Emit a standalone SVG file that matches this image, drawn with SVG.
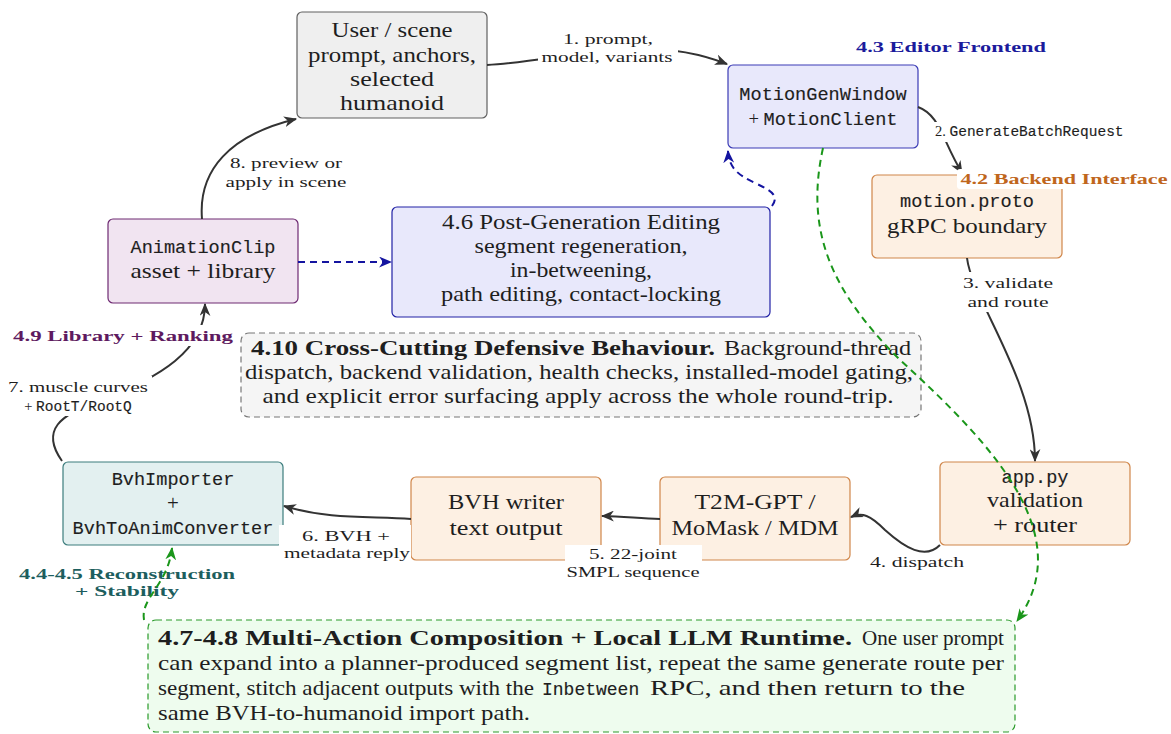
<svg xmlns="http://www.w3.org/2000/svg" width="1171" height="734" viewBox="0 0 1171 734">
<defs>
<style>
.t{font-family:"Liberation Serif","Times New Roman",serif;fill:#1e1e1e}
.m{font-family:"Liberation Mono","Courier New",monospace;fill:#1e1e1e;stroke:#1e1e1e;stroke-width:0.15}
.f21{font-size:21px}
.f19{font-size:18.6px}
.f14{font-size:14px}
.sec{font-family:"Liberation Serif","Times New Roman",serif;font-weight:bold;font-size:15.5px}
.gray{fill:#efefef;stroke:#606060;stroke-width:1.2}
.blue{fill:#e8e8fb;stroke:#3a3ab5;stroke-width:1.2}
.orange{fill:#fdf0e3;stroke:#d0864a;stroke-width:1.2}
.purple{fill:#f1e4f1;stroke:#6e2a72;stroke-width:1.2}
.teal{fill:#e3f0f0;stroke:#3d7d7d;stroke-width:1.2}
.dash{fill:#f5f5f5;stroke:#777;stroke-width:1.2;stroke-dasharray:6 4}
.llm{fill:#eefcee;stroke:#2a9a2a;stroke-width:1.2;stroke-dasharray:6 4}
.c{fill:none;stroke:#333;stroke-width:2}
.cb{fill:none;stroke:#1414a0;stroke-width:2;stroke-dasharray:7 5}
.cg{fill:none;stroke:#1a961a;stroke-width:2;stroke-dasharray:7 5}
.bg{fill:#fff}
</style>
<marker id="ad" viewBox="0 0 12 10" refX="11" refY="5" markerWidth="13" markerHeight="11" markerUnits="userSpaceOnUse" orient="auto"><path d="M0,0 L12,5 L0,10 L3.5,5 z" fill="#333"/></marker>
<marker id="ab" viewBox="0 0 12 10" refX="11" refY="5" markerWidth="13" markerHeight="11" markerUnits="userSpaceOnUse" orient="auto"><path d="M0,0 L12,5 L0,10 L3.5,5 z" fill="#1414a0"/></marker>
<marker id="ag" viewBox="0 0 12 10" refX="11" refY="5" markerWidth="13" markerHeight="11" markerUnits="userSpaceOnUse" orient="auto"><path d="M0,0 L12,5 L0,10 L3.5,5 z" fill="#1a961a"/></marker>
</defs>
<rect width="1171" height="734" fill="#fff"/>

<g id="user">
<rect x="297" y="12" width="190" height="106" rx="5" class="gray"/>
<text class="t f21" x="392" y="37" text-anchor="middle" textLength="121" lengthAdjust="spacingAndGlyphs">User / scene</text>
<text class="t f21" x="392" y="61.5" text-anchor="middle" textLength="168" lengthAdjust="spacingAndGlyphs">prompt, anchors,</text>
<text class="t f21" x="392" y="86" text-anchor="middle" textLength="84" lengthAdjust="spacingAndGlyphs">selected</text>
<text class="t f21" x="392" y="110" text-anchor="middle" textLength="104" lengthAdjust="spacingAndGlyphs">humanoid</text>
</g>

<g id="motiongen">
<rect x="728" y="65" width="190" height="83" rx="5" class="blue"/>
<text class="m f19" x="823" y="100" text-anchor="middle">MotionGenWindow</text>
<text class="f19" x="823" y="125" text-anchor="middle"><tspan class="t">+ </tspan><tspan class="m">MotionClient</tspan></text>
</g>

<g id="proto">
<rect x="872" y="175" width="190" height="83" rx="5" class="orange"/>
<text class="m f19" x="967" y="207" text-anchor="middle">motion.proto</text>
<text class="t f21" x="967" y="233" text-anchor="middle" textLength="160" lengthAdjust="spacingAndGlyphs">gRPC boundary</text>
</g>

<g id="postgen">
<rect x="392" y="207" width="378" height="110" rx="5" class="blue" style="stroke:#2020a5"/>
<text class="t f21" x="581" y="229" text-anchor="middle" textLength="278" lengthAdjust="spacingAndGlyphs">4.6 Post-Generation Editing</text>
<text class="t f21" x="581" y="253" text-anchor="middle" textLength="213" lengthAdjust="spacingAndGlyphs">segment regeneration,</text>
<text class="t f21" x="581" y="277" text-anchor="middle" textLength="142" lengthAdjust="spacingAndGlyphs">in-betweening,</text>
<text class="t f21" x="581" y="301" text-anchor="middle" textLength="280" lengthAdjust="spacingAndGlyphs">path editing, contact-locking</text>
</g>

<g id="animclip">
<rect x="108" y="219" width="190" height="84" rx="5" class="purple"/>
<text class="m f19" x="203" y="253" text-anchor="middle">AnimationClip</text>
<text class="t f21" x="203" y="278" text-anchor="middle" textLength="145" lengthAdjust="spacingAndGlyphs">asset + library</text>
</g>

<g id="defensive">
<rect x="241" y="333" width="680" height="84" rx="8" class="dash"/>
<text class="t f21" x="251" y="355" font-weight="bold" textLength="464" lengthAdjust="spacingAndGlyphs">4.10 Cross-Cutting Defensive Behaviour.</text>
<text class="t f21" x="724" y="355" textLength="187" lengthAdjust="spacingAndGlyphs">Background-thread</text>
<text class="t f21" x="579" y="379" text-anchor="middle" textLength="668" lengthAdjust="spacingAndGlyphs">dispatch, backend validation, health checks, installed-model gating,</text>
<text class="t f21" x="578" y="403" text-anchor="middle" textLength="631" lengthAdjust="spacingAndGlyphs">and explicit error surfacing apply across the whole round-trip.</text>
</g>

<g id="bvhimporter">
<rect x="63" y="462" width="220" height="83" rx="5" class="teal"/>
<text class="m f19" x="173" y="485" text-anchor="middle">BvhImporter</text>
<text class="t f21" x="173" y="510" text-anchor="middle">+</text>
<text class="m f19" x="173" y="534" text-anchor="middle">BvhToAnimConverter</text>
</g>

<g id="bvhwriter">
<rect x="411" y="477" width="190" height="83" rx="5" class="orange"/>
<text class="t f21" x="506" y="509" text-anchor="middle" textLength="116" lengthAdjust="spacingAndGlyphs">BVH writer</text>
<text class="t f21" x="506" y="535" text-anchor="middle" textLength="113" lengthAdjust="spacingAndGlyphs">text output</text>
</g>

<g id="t2m">
<rect x="660" y="477" width="190" height="83" rx="5" class="orange"/>
<text class="t f21" x="755" y="509" text-anchor="middle" textLength="121" lengthAdjust="spacingAndGlyphs">T2M-GPT /</text>
<text class="t f21" x="755" y="535" text-anchor="middle" textLength="167" lengthAdjust="spacingAndGlyphs">MoMask / MDM</text>
</g>

<g id="apppy">
<rect x="940" y="462" width="190" height="83" rx="5" class="orange"/>
<text class="m f19" x="1035" y="483" text-anchor="middle">app.py</text>
<text class="t f21" x="1035" y="507" text-anchor="middle" textLength="96" lengthAdjust="spacingAndGlyphs">validation</text>
<text class="t f21" x="1035" y="532" text-anchor="middle" textLength="84" lengthAdjust="spacingAndGlyphs">+ router</text>
</g>

<g id="llm">
<rect x="148" y="620" width="867" height="112" rx="8" class="llm"/>
<text class="t f21" x="158" y="645" font-weight="bold" textLength="694" lengthAdjust="spacingAndGlyphs">4.7-4.8 Multi-Action Composition + Local LLM Runtime.</text>
<text class="t f21" x="862" y="645" textLength="142" lengthAdjust="spacingAndGlyphs">One user prompt</text>
<text class="t f21" x="158" y="670" textLength="846" lengthAdjust="spacingAndGlyphs">can expand into a planner-produced segment list, repeat the same generate route per</text>
<text class="t f21" x="158" y="695" textLength="376" lengthAdjust="spacingAndGlyphs">segment, stitch adjacent outputs with the</text>
<text class="m" x="542" y="695" font-size="18">Inbetween</text>
<text class="t f21" x="650" y="695" textLength="315" lengthAdjust="spacingAndGlyphs">RPC, and then return to the</text>
<text class="t f21" x="158" y="720" textLength="372" lengthAdjust="spacingAndGlyphs">same BVH-to-humanoid import path.</text>
</g>

<g id="label-recon">
<text class="sec" x="127" y="579" text-anchor="middle" fill="#1d5e5e" textLength="216" lengthAdjust="spacingAndGlyphs">4.4-4.5 Reconstruction</text>
<text class="sec" x="127" y="596" text-anchor="middle" fill="#1d5e5e" textLength="104" lengthAdjust="spacingAndGlyphs">+ Stability</text>
</g>

<g id="connectors">
<path class="c" d="M487,65 C560,62 640,30 727,64" marker-end="url(#ad)"/>
<path class="c" d="M918,107 C940,115 942,140 962,173" marker-end="url(#ad)"/>
<path class="c" d="M967,258 C972,300 1035,380 1035,461" marker-end="url(#ad)"/>
<path class="c" d="M940,545 C925,560 905,548 885,530 C870,515 862,512 851,517" marker-end="url(#ad)"/>
<path class="c" d="M660,519 C640,519 625,516 602,516" marker-end="url(#ad)"/>
<path class="c" d="M411,519 C370,516 330,520 284,506" marker-end="url(#ad)"/>
<path class="c" d="M62,461 C40,430 60,415 100,400 C160,378 205,350 205,304" marker-end="url(#ad)"/>
<path class="c" d="M202,219 C198,170 230,135 296,119" marker-end="url(#ad)"/>
<path class="cb" d="M298,262 L391,262" marker-end="url(#ab)"/>
<path class="cb" d="M772,206 C780,195 770,190 755,183 C738,175 729,168 728,151" marker-end="url(#ab)"/>
<path class="cg" d="M823,148 C805,230 830,290 900,360 C1005,455 1075,540 1017,621" marker-end="url(#ag)"/>
<path class="cg" d="M144,620 C140,598 168,585 172,548" marker-end="url(#ag)"/>

<rect class="bg" x="538" y="28" width="140" height="38"/>
<text class="t f14" x="608" y="44" text-anchor="middle" textLength="90" lengthAdjust="spacingAndGlyphs">1. prompt,</text>
<text class="t f14" x="607" y="62" text-anchor="middle" textLength="131" lengthAdjust="spacingAndGlyphs">model, variants</text>

<rect class="bg" x="931" y="122" width="200" height="20"/>
<text x="935" y="136" font-size="14.5"><tspan class="t">2. </tspan><tspan class="m">GenerateBatchRequest</tspan></text>

<rect class="bg" x="960" y="272" width="96" height="40"/>
<text class="t f14" x="1008" y="288" text-anchor="middle" textLength="90" lengthAdjust="spacingAndGlyphs">3. validate</text>
<text class="t f14" x="1008" y="307" text-anchor="middle" textLength="81" lengthAdjust="spacingAndGlyphs">and route</text>

<text class="t f14" x="917" y="567" text-anchor="middle" textLength="94" lengthAdjust="spacingAndGlyphs">4. dispatch</text>

<rect class="bg" x="565" y="545" width="137" height="38"/>
<text class="t f14" x="633" y="559" text-anchor="middle" textLength="88" lengthAdjust="spacingAndGlyphs">5. 22-joint</text>
<text class="t f14" x="633" y="577" text-anchor="middle" textLength="133" lengthAdjust="spacingAndGlyphs">SMPL sequence</text>

<rect class="bg" x="279" y="525" width="132" height="38"/>
<text class="t f14" x="346" y="541" text-anchor="middle" textLength="88" lengthAdjust="spacingAndGlyphs">6. BVH +</text>
<text class="t f14" x="347" y="558" text-anchor="middle" textLength="126" lengthAdjust="spacingAndGlyphs">metadata reply</text>

<rect class="bg" x="4" y="376" width="148" height="40"/>
<text class="t f14" x="78" y="392" text-anchor="middle" textLength="140" lengthAdjust="spacingAndGlyphs">7. muscle curves</text>
<text x="78" y="411" text-anchor="middle" font-size="14.5"><tspan class="t">+ </tspan><tspan class="m">RootT/RootQ</tspan></text>

<text class="t f14" x="286" y="168" text-anchor="middle" textLength="112" lengthAdjust="spacingAndGlyphs">8. preview or</text>
<text class="t f14" x="286" y="187" text-anchor="middle" textLength="121" lengthAdjust="spacingAndGlyphs">apply in scene</text>
</g>

<g id="label-frontend">
<text class="sec" x="951" y="52" text-anchor="middle" fill="#1b1b9c" textLength="190" lengthAdjust="spacingAndGlyphs">4.3 Editor Frontend</text>
</g>
<g id="label-backend">
<rect class="bg" x="957" y="169" width="214" height="20" rx="3"/>
<text class="sec" x="1064" y="184" text-anchor="middle" fill="#c0661c" textLength="207" lengthAdjust="spacingAndGlyphs">4.2 Backend Interface</text>
</g>
<g id="label-library">
<rect class="bg" x="10" y="325" width="228" height="21"/>
<text class="sec" x="123" y="341" text-anchor="middle" fill="#5e1a60" textLength="220" lengthAdjust="spacingAndGlyphs">4.9 Library + Ranking</text>
</g>
</svg>
